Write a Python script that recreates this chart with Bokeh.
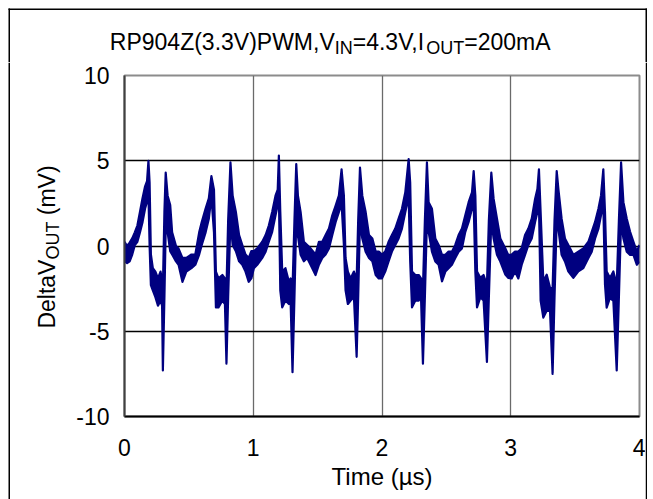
from bokeh.plotting import figure
from bokeh.layouts import column, row
from bokeh.models import FixedTicker, ColumnDataSource
from bokeh.core.properties import value
from bokeh.embed import file_html
from bokeh.resources import INLINE

# ---------------- data ----------------
# envelope of the oscilloscope trace: time (us), lower and upper value (mV)
t_us = [
    0.000, 0.020, 0.040, 0.060, 0.080, 0.100, 0.120, 0.140, 0.160, 0.175,
    0.186, 0.195, 0.205, 0.220, 0.240, 0.260, 0.280, 0.292, 0.298, 0.310,
    0.320, 0.335, 0.355, 0.370, 0.400, 0.420, 0.450, 0.480, 0.520, 0.550,
    0.580, 0.600, 0.630, 0.655, 0.675, 0.695, 0.710, 0.730, 0.760, 0.780,
    0.792, 0.805, 0.823, 0.840, 0.865, 0.890, 0.915, 0.940, 0.965, 0.985,
    1.005, 1.031, 1.070, 1.096, 1.121, 1.147, 1.173, 1.190, 1.199, 1.210,
    1.225, 1.250, 1.277, 1.290, 1.305, 1.320, 1.334, 1.347, 1.368, 1.393,
    1.419, 1.445, 1.484, 1.510, 1.536, 1.562, 1.588, 1.614, 1.640, 1.665,
    1.686, 1.704, 1.717, 1.735, 1.756, 1.782, 1.803, 1.815, 1.829, 1.847,
    1.873, 1.899, 1.925, 1.951, 1.975,
    2.000, 2.025, 2.051, 2.077, 2.103, 2.129, 2.155, 2.181, 2.207, 2.219,
    2.233, 2.259, 2.285, 2.303, 2.318, 2.333, 2.349, 2.362, 2.388, 2.414,
    2.440, 2.466, 2.492, 2.517, 2.543, 2.569, 2.595, 2.621, 2.647, 2.673,
    2.699, 2.712, 2.725, 2.738, 2.764, 2.789, 2.815, 2.830, 2.849, 2.867,
    2.893, 2.919, 2.958, 2.980,
    3.007, 3.033, 3.059, 3.085, 3.111, 3.137, 3.163, 3.189, 3.207, 3.219,
    3.232, 3.253, 3.279, 3.305, 3.325, 3.340, 3.357, 3.370, 3.395, 3.421,
    3.447, 3.486, 3.525, 3.564, 3.603, 3.629, 3.655, 3.681, 3.701, 3.719,
    3.732, 3.745, 3.771, 3.797, 3.823, 3.840, 3.857, 3.875, 3.901, 3.927,
    3.953, 3.979, 4.000,
]
v_lo = [
    -0.90, -1.00, -0.90, -0.50, 0.05, 0.25, 0.80, 1.40, 2.20, 2.60,
    3.00, 0.00, -2.30, -2.60, -3.00, -3.50, -3.20, -3.50, -7.30, -3.00,
    1.00, 0.80, -0.30, -0.50, -0.90, -1.10, -2.10, -1.50, -1.30, -1.10,
    -0.50, 0.06, 0.80, 1.60, 2.90, 0.80, -3.60, -3.60, -3.20, -3.40,
    -6.90, -3.00, 1.50, 0.06, -0.30, -0.90, -1.10, -1.50, -2.10, -1.90,
    -1.30, -1.10, -0.70, -0.33, 0.25, 0.83, 1.80, 2.40, 3.00, -2.60,
    -3.60, -3.20, -3.40, -3.20, -7.40, -3.00, 1.50, 0.60, -0.52, -0.90,
    -0.70, -1.10, -1.70, -1.10, -0.70, -0.50, -0.14, 0.64, 1.41, 1.99,
    2.50, 0.06, -2.60, -3.40, -3.20, -3.00, -6.50, -3.00, 1.50, 0.44,
    -0.33, -0.70, -0.90, -1.70, -1.90,
    -1.90, -1.50, -0.90, -0.33, 0.06, 0.44, 1.02, 1.99, 2.90, -0.90,
    -3.60, -3.20, -3.20, -3.00, -6.90, -3.00, 1.50, 0.83, -0.33, -0.91,
    -1.10, -2.07, -1.50, -1.30, -1.10, -0.71, -0.33, -0.14, 0.83, 1.41,
    2.18, 2.50, -1.50, -3.60, -3.00, -3.20, -6.80, -3.00, 1.50, 0.44,
    -0.52, -0.91, -1.68, -1.87,
    -1.90, -1.50, -1.90, -1.10, -0.52, 0.06, 0.44, 1.41, 1.99, 2.50,
    -3.20, -4.20, -3.80, -3.80, -7.50, -3.00, 1.50, 1.00, -0.52, -0.91,
    -1.49, -1.87, -1.49, -1.29, -0.71, -0.33, 0.44, 1.02, 1.80, 2.50,
    -2.26, -3.61, -3.03, -3.22, -7.30, -3.00, 1.50, 0.44, -0.33, -0.52,
    -0.52, -1.10, -0.91,
]
v_hi = [
    0.25, 0.00, 0.20, 0.45, 0.80, 1.20, 2.00, 2.80, 3.50, 3.80,
    5.00, 3.70, -0.50, -1.30, -1.50, -1.90, -1.50, -2.00, -2.50, 2.00,
    4.30, 2.95, 2.40, 0.80, 0.00, -0.15, -0.70, -0.70, -0.50, -0.50,
    0.80, 1.40, 2.20, 2.80, 4.10, 3.30, -1.50, -1.90, -1.70, -1.90,
    -2.50, 1.50, 4.90, 2.95, 2.00, 0.64, 0.06, -0.50, -0.70, -0.30,
    -0.30, -0.14, 0.25, 0.64, 1.20, 2.00, 2.95, 3.30, 5.30, 2.00,
    -1.50, -1.30, -2.10, -1.90, -2.50, 1.50, 4.80, 2.95, 1.99, 0.25,
    0.06, -0.14, -0.50, 0.25, 0.25, 0.64, 1.02, 1.80, 2.37, 2.95,
    4.50, 2.95, -0.70, -1.50, -1.90, -1.50, -2.00, 1.50, 4.60, 2.95,
    1.99, 0.64, 0.44, -0.33, -0.33,
    -0.50, -0.33, 0.25, 0.64, 1.02, 1.60, 2.18, 3.15, 5.10, 3.70,
    -1.50, -1.70, -1.70, -1.90, -2.50, 1.50, 4.90, 2.57, 2.18, 0.44,
    0.06, -0.52, -0.52, -0.33, -0.33, 0.06, 0.64, 1.02, 1.80, 2.57,
    3.15, 4.40, 2.95, -1.50, -1.87, -1.70, -2.30, 1.50, 4.30, 2.76,
    1.60, 0.44, -0.14, -0.52,
    -0.50, -0.33, -0.33, -0.14, 0.64, 1.02, 1.60, 2.76, 3.34, 4.50,
    1.99, -2.07, -1.68, -2.45, -2.50, 1.50, 4.40, 3.34, 1.60, 0.44,
    0.06, -0.52, -0.33, -0.14, 0.25, 0.83, 1.41, 2.18, 2.95, 4.50,
    1.99, -1.49, -1.87, -1.49, -2.30, 1.50, 4.90, 2.57, 1.60, 0.83,
    0.25, -0.33, 0.06,
]
assert len(t_us) == len(v_lo) == len(v_hi)

x_ticks = [0, 1, 2, 3, 4]
y_ticks = [-10, -5, 0, 5, 10]
x_tick_labels = {0: "0", 1: "1", 2: "2", 3: "3", 4: "4"}
y_tick_labels = {-10: "-10", -5: "-5", 0: "0", 5: "5", 10: "10"}

# title / y-axis label pieces: (text, is_subscript)
title_parts = [("RP904Z(3.3V)PWM,V", False), ("IN", True), ("=4.3V,I", False),
               ("OUT", True), ("=200mA", False)]
ylabel_parts = [("DeltaV", False), ("OUT", True), (" (mV)", False)]
xlabel_text = "Time (\u00b5s)"

# ---------------- styling ----------------
FONT = "Liberation Sans"
NAVY = "#000080"
MAIN_PX = 23
SUB_PX = 18
SUB_DROP = 4.4
SHIFT_EM = 0.35          # compensation for where the text baseline lands

# Arial / Liberation Sans advance widths (em), used to lay the text pieces side by side
ADV = {'R': .722, 'P': .667, '9': .556, '0': .556, '4': .556, 'Z': .611, '(': .333,
       '3': .556, '.': .278, 'V': .667, ')': .333, 'W': .944, 'M': .833, ',': .278,
       'I': .278, 'N': .722, '=': .584, 'O': .778, 'U': .722, 'T': .611, '2': .556,
       'm': .833, 'A': .667, 'D': .722, 'e': .556, 'l': .222, 't': .278, 'a': .556,
       ' ': .278}


def text_width(s, px):
    return sum(ADV.get(c, .556) for c in s) * px


def blank_fig(w, h):
    # a strip whose frame fills the whole canvas; coordinates are canvas pixels, y upwards
    f = figure(width=w, height=h, output_backend="svg", toolbar_location=None,
               x_range=(0, w), y_range=(0, h), x_axis_location=None, y_axis_location=None,
               min_border=0, min_border_left=0, min_border_right=0,
               min_border_top=0, min_border_bottom=0, frame_align=False)
    f.grid.visible = False
    f.outline_line_color = None
    f.background_fill_color = "white"
    f.border_fill_color = "white"
    return f


BORDER = dict(line_color="black", line_width=1.5)
PAGE_H = 499

# ---------------- title strip ----------------
TW, TH = 653, 62
tfig = blank_fig(TW, TH)
X = 109.3
BASE_Y = 49.3            # page px of the main baseline, from top
for txt, sub in title_parts:
    px = SUB_PX if sub else MAIN_PX
    yb = BASE_Y + (SUB_DROP if sub else 0.0) - SHIFT_EM * px
    tfig.text(x=[X], y=[TH - yb], text=[txt],
              text_font=value(FONT), text_font_size=value(f"{px}px"),
              text_color="black", text_align="left", text_baseline="alphabetic")
    X += text_width(txt, px)
tfig.segment(x0=[8.0, 8.75, 645.75], y0=[TH - 8.75, TH - 8.0, TH - 8.0],
             x1=[646.5, 8.75, 645.75], y1=[TH - 8.75, 0, 0], **BORDER)

# ---------------- y-label strip ----------------
LW, RH = 70, PAGE_H - TH
lfig = blank_fig(LW, RH)
total = sum(text_width(s, SUB_PX if sb else MAIN_PX) for s, sb in ylabel_parts)
Y = 246.5 + total / 2.0  # page px of the start (bottom end) of the label
BASE_X = 54.5
for txt, sub in ylabel_parts:
    px = SUB_PX if sub else MAIN_PX
    stripped = txt.lstrip(" ")
    Y -= text_width(txt[:len(txt) - len(stripped)], px)   # leading blank as an offset
    xb = BASE_X + (SUB_DROP if sub else 0.0) - SHIFT_EM * px
    lfig.text(x=[xb], y=[PAGE_H - Y], text=[stripped], angle=1.5707963,
              text_font=value(FONT), text_font_size=value(f"{px}px"),
              text_color="black", text_align="left", text_baseline="alphabetic")
    Y -= text_width(stripped, px)
lfig.segment(x0=[8.75], y0=[RH], x1=[8.75], y1=[0], **BORDER)

# ---------------- main chart ----------------
MW = 575
p = figure(width=MW, height=RH, output_backend="svg", toolbar_location=None,
           x_range=(0, 4), y_range=(-10, 10), frame_align=False,
           min_border_left=124 - LW, min_border_right=(LW + MW) - 639,
           min_border_top=75 - TH, min_border_bottom=PAGE_H - 416)
p.background_fill_color = "white"
p.border_fill_color = "white"
p.outline_line_color = "#8c8c8c"
p.outline_line_width = 2

for ax in (p.xaxis, p.yaxis):
    ax.major_tick_in = 0
    ax.major_tick_out = 0
    ax.minor_tick_in = 0
    ax.minor_tick_out = 0
    ax.major_label_text_font = FONT
    ax.major_label_text_font_size = f"{MAIN_PX}px"
    ax.major_label_text_color = "black"
p.xaxis.ticker = FixedTicker(ticks=x_ticks)
p.yaxis.ticker = FixedTicker(ticks=y_ticks)
p.xaxis.major_label_overrides = x_tick_labels
p.yaxis.major_label_overrides = y_tick_labels
p.xaxis.axis_line_color = "black"
p.xaxis.axis_line_width = 2
p.yaxis.axis_line_color = "#404040"
p.yaxis.axis_line_width = 2
p.xaxis.major_label_standoff = 22
p.yaxis.major_label_standoff = 15
p.xaxis.axis_label = xlabel_text
p.xaxis.axis_label_text_font = FONT
p.xaxis.axis_label_text_font_size = "24px"
p.xaxis.axis_label_text_font_style = "normal"
p.xaxis.axis_label_text_color = "black"
p.xaxis.axis_label_standoff = 4

p.xgrid.ticker = FixedTicker(ticks=x_ticks)
p.ygrid.ticker = FixedTicker(ticks=y_ticks)
p.xgrid.grid_line_color = "#6a6a6a"
p.xgrid.grid_line_width = 1.3
p.ygrid.grid_line_color = "black"
p.ygrid.grid_line_width = 1.3

src = ColumnDataSource(dict(t=t_us, lo=v_lo, hi=v_hi))
p.varea(x="t", y1="lo", y2="hi", source=src, fill_color=NAVY, fill_alpha=1.0)
p.line(x="t", y="lo", source=src, line_color=NAVY, line_width=2.2, line_join="round")
p.line(x="t", y="hi", source=src, line_color=NAVY, line_width=2.2, line_join="round")

# ---------------- right border strip ----------------
RW = 653 - LW - MW
rfig = blank_fig(RW, RH)
rfig.segment(x0=[645.75 - (LW + MW)], y0=[RH], x1=[645.75 - (LW + MW)], y1=[0], **BORDER)

layout = column(tfig, row(lfig, p, rfig, spacing=0), spacing=0)
open("out.html", "w").write(file_html(layout, INLINE))
